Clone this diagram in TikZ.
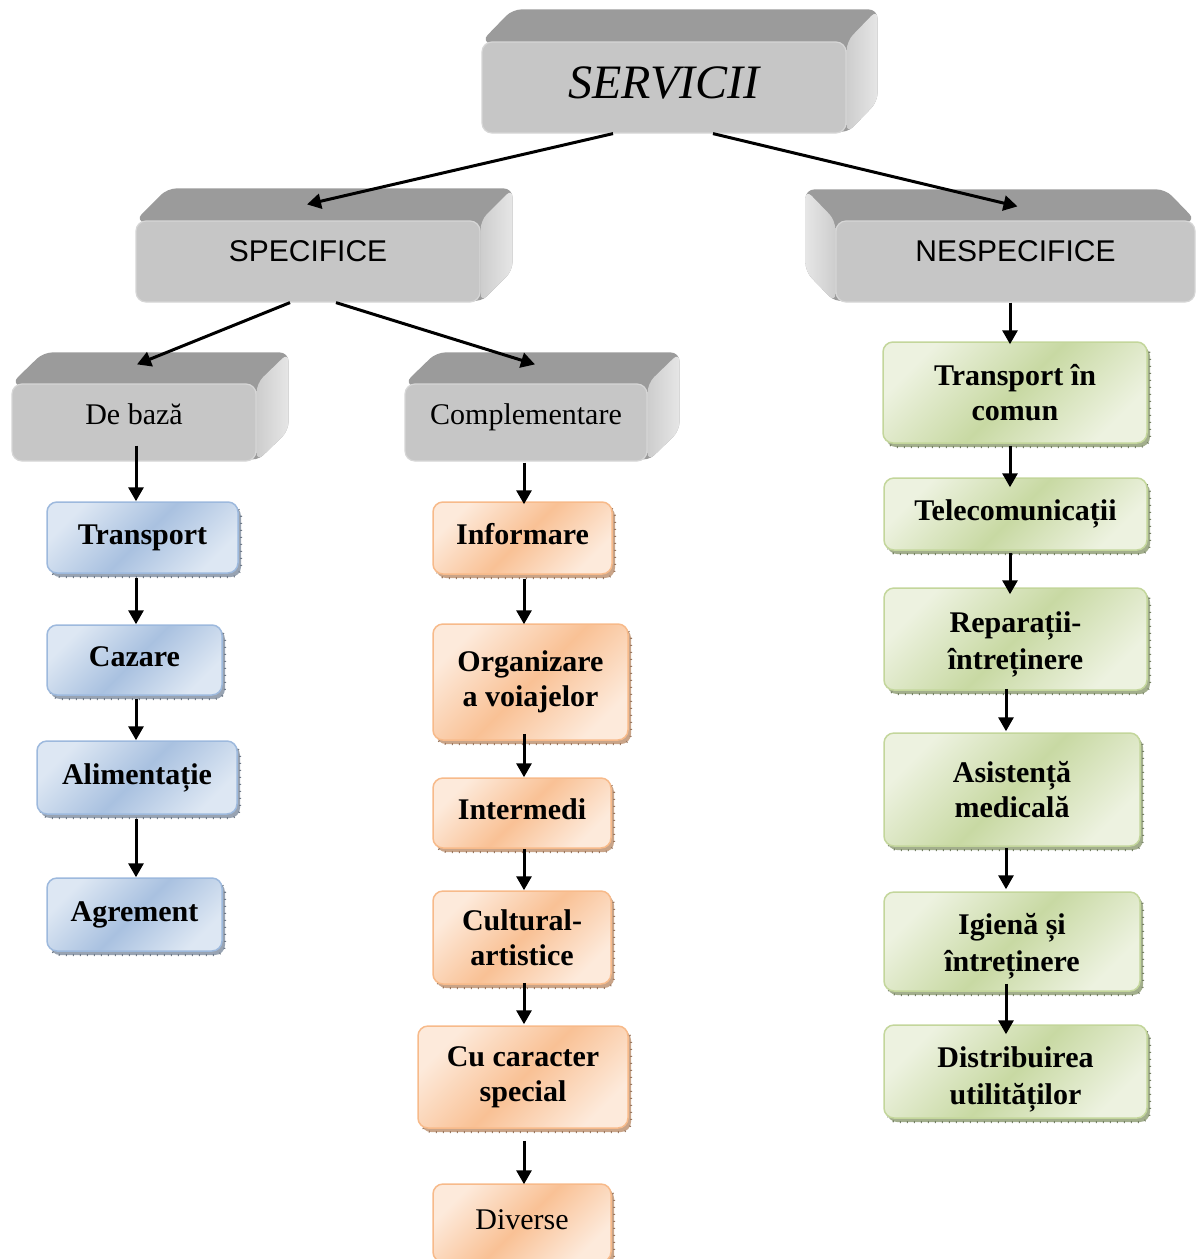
\documentclass[tikz,border=0pt]{standalone}
\usepackage{fontspec}
\setmainfont{Liberation Serif}
\newfontfamily\arialf{Liberation Sans}
\usetikzlibrary{calc,arrows.meta,shadows}
\pgfdeclarelayer{bg}
\pgfsetlayers{bg,main}
\definecolor{gfrontc}{HTML}{C6C6C6}
\definecolor{gedge}{HTML}{D6D6D6}
\definecolor{gtopc}{HTML}{9B9B9B}
\definecolor{gsideA}{HTML}{CDCDCD}
\definecolor{gsideB}{HTML}{E6E6E6}
\definecolor{blueL}{HTML}{DDE7F3}
\definecolor{blueD}{HTML}{A9C1E0}
\definecolor{blueB}{HTML}{9DB9DD}
\definecolor{blueS}{HTML}{98A3B2}
\definecolor{blueT}{HTML}{6F7A88}
\definecolor{orangeL}{HTML}{FDEADB}
\definecolor{orangeD}{HTML}{F9C195}
\definecolor{orangeB}{HTML}{F7BA8A}
\definecolor{orangeS}{HTML}{C9A488}
\definecolor{orangeT}{HTML}{9A7860}
\definecolor{greenL}{HTML}{EDF2E0}
\definecolor{greenD}{HTML}{C8D9A3}
\definecolor{greenB}{HTML}{C3D69B}
\definecolor{greenS}{HTML}{A2AE8C}
\definecolor{greenT}{HTML}{758065}
\tikzset{
  gfrontbox/.style={fill=gfrontc, draw=gedge, line width=1.2pt, rounded corners=10pt, inner sep=0pt},
  cbox/.style={rounded corners=10pt, draw=#1B, line width=1.5pt,
    top color=#1L, bottom color=#1L, middle color=#1D, shading angle=45,
    general shadow={shadow xshift=3pt, shadow yshift=-4pt, fill=#1S, draw=#1T,
      line width=2pt, dash pattern=on 1pt off 6pt},
    font=\fontsize{30}{35}\selectfont\bfseries, align=center, inner sep=2pt},
  oneline/.style={text height=20pt, text depth=7pt},
  arr/.style={line width=3pt, -{Triangle[width=15pt,length=14pt]}},
}
\newcommand\grayboxR[8]{%
  \node[gfrontbox, minimum width=#3, minimum height=#4, #7] (#1) at #2 {#8};
  \begin{pgfonlayer}{bg}
    \fill[gtopc, rounded corners=9pt] (#1.north west) -- ($(#1.north west)+(#5,#6)$)
      -- ($(#1.north east)+(#5,#6)$) -- ($(#1.south east)+(#5,#6)$) -- (#1.south east) -- cycle;
    \shade[left color=gsideA, right color=gsideB, rounded corners=9pt] (#1.north east)
      -- ($(#1.north east)+(#5,#6)$) -- ($(#1.south east)+(#5,#6)$) -- (#1.south east) -- cycle;
  \end{pgfonlayer}}
\newcommand\conn[6]{%
  \draw[arr] ($(#1.south -| #3)+(0,#4)$) -- ($(#2.north -| #3)+(0,#5)$);}
\begin{document}
\begin{tikzpicture}[x=1pt,y=-1pt]
\useasboundingbox (0,0) rectangle (1197,1259);
\clip (0,0) rectangle (1197,1259);
\coordinate (cL) at (136,0);
\coordinate (cM) at (524,0);
\coordinate (cR) at (1010,0);
\coordinate (cRb) at (1006,0);

% gray 3D boxes
\grayboxR{serv}{(664,87.5)}{364pt}{91pt}{31}{-32}{font=\fontsize{48}{56}\selectfont\itshape, text height=22pt, text depth=0pt}{SERVICII}
\grayboxR{spec}{(308,261.5)}{344pt}{81pt}{32}{-32}{font=\arialf\fontsize{30}{35}\selectfont, text height=0pt, text depth=0pt}{SPECIFICE}
\grayboxR{baza}{(134,422.5)}{244pt}{77pt}{32}{-31}{font=\fontsize{30}{35}\selectfont, text height=3pt, text depth=0pt}{De bază}
\grayboxR{compl}{(526,422.5)}{242pt}{77pt}{32}{-31}{font=\fontsize{30}{35}\selectfont, text height=3pt, text depth=0pt}{Complementare}
\node[gfrontbox, minimum width=359pt, minimum height=81pt, font=\arialf\fontsize{30}{35}\selectfont, text height=0pt, text depth=0pt] (nesp) at (1015.5,261.5) {NESPECIFICE};
\begin{pgfonlayer}{bg}
  \fill[gtopc, rounded corners=9pt] (nesp.north east) -- ($(nesp.north east)+(-30,-31)$)
    -- ($(nesp.north west)+(-30,-31)$) -- ($(nesp.south west)+(-30,-31)$) -- (nesp.south west) -- cycle;
  \shade[left color=gsideB, right color=gsideA, rounded corners=9pt] (nesp.north west)
    -- ($(nesp.north west)+(-30,-31)$) -- ($(nesp.south west)+(-30,-31)$) -- (nesp.south west) -- cycle;
\end{pgfonlayer}

% blue column
\node[cbox=blue, oneline, minimum width=191pt, minimum height=71pt] (tr) at (142.5,537.5) {Transport};
\node[cbox=blue, oneline, minimum width=175pt, minimum height=70pt] (caz) at (134.5,660) {Cazare};
\node[cbox=blue, oneline, minimum width=200pt, minimum height=73pt] (alim) at (137,777.5) {Alimentație};
\node[cbox=blue, oneline, minimum width=175pt, minimum height=73pt] (agr) at (134.5,914.5) {Agrement};

% orange column
\node[cbox=orange, oneline, minimum width=179pt, minimum height=72pt] (info) at (522.5,538) {Informare};
\node[cbox=orange, minimum width=195pt, minimum height=116pt] (org) at (530.5,682) {Organizare\\a voiajelor};
\node[cbox=orange, oneline, minimum width=178pt, minimum height=70pt] (interm) at (522,813) {Intermedi};
\node[cbox=orange, minimum width=178pt, minimum height=93pt] (cult) at (522,937.5) {Cultural-\\artistice};
\node[cbox=orange, minimum width=210pt, minimum height=102pt] (cu) at (523,1077) {Cu caracter\\special};
\node[cbox=orange, oneline, minimum width=178pt, minimum height=78pt, font=\fontsize{30}{35}\selectfont\mdseries] (div) at (522,1223) {Diverse};

% green column
\node[cbox=green, minimum width=264pt, minimum height=101pt] (tc) at (1015,392.5) {Transport în\\comun};
\node[cbox=green, oneline, minimum width=263pt, minimum height=72pt] (tel) at (1015.5,514) {Telecomunicații};
\node[cbox=green, minimum width=263pt, minimum height=102pt, font=\fontsize{30}{37}\selectfont\bfseries] (rep) at (1015.5,639) {\rule{0pt}{31pt}Reparații-\\întreținere};
\node[cbox=green, minimum width=256pt, minimum height=113pt] (asis) at (1012,789.5) {Asistență\\medicală};
\node[cbox=green, minimum width=256pt, minimum height=99pt, font=\fontsize{30}{37}\selectfont\bfseries] (ig) at (1012,941.5) {\rule{0pt}{31pt}Igienă și\\întreținere};
\node[cbox=green, minimum width=263pt, minimum height=93pt, font=\fontsize{30}{37}\selectfont\bfseries] (dist) at (1015.5,1071.5) {\rule{0pt}{37pt}Distribuirea\\utilităților};

% diagonal connectors
\draw[arr] ($(serv.south)+(-51,0)$) -- ($(spec.north)+(-1,-16)$);
\draw[arr] ($(serv.south)+(49,0)$) -- ($(nesp.north)+(2,-14)$);
\draw[arr] ($(spec.south)+(-18,0)$) -- ($(baza.north)+(3,-19)$);
\draw[arr] ($(spec.south)+(28,0)$) -- ($(compl.north)+(9,-19)$);

% vertical connectors
\conn{baza}{tr}{cL}{-16}{0}{}
\conn{tr}{caz}{cL}{4}{0}{}
\conn{caz}{alim}{cL}{3}{0}{}
\conn{alim}{agr}{cL}{4}{0}{}
\conn{compl}{info}{cM}{1}{3}{}
\conn{info}{org}{cM}{4}{1}{}
\conn{org}{interm}{cM}{-7}{0}{}
\conn{interm}{cult}{cM}{0}{0}{}
\conn{cult}{cu}{cM}{-2}{-1}{}
\conn{cu}{div}{cM}{12}{1}{}
\conn{nesp}{tc}{cR}{0}{3}{}
\conn{tc}{tel}{cR}{2}{10}{}
\conn{tel}{rep}{cR}{2}{7}{}
\conn{rep}{asis}{cRb}{-2}{-1}{}
\conn{asis}{ig}{cRb}{1}{-2}{}
\conn{ig}{dist}{cRb}{-8}{10}{}
\end{tikzpicture}
\end{document}
